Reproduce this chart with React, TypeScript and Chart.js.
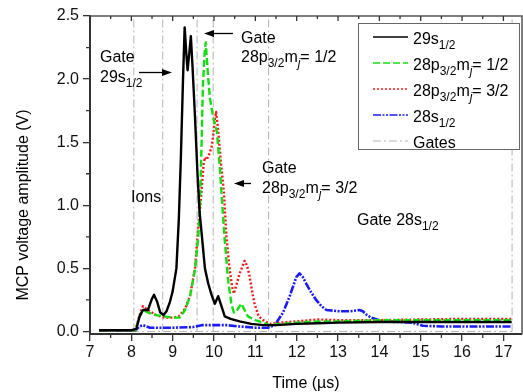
import { useEffect, useRef } from 'react';
import { Chart, registerables } from 'chart.js';

Chart.register(...registerables);

const FONT = '"Liberation Sans", Arial, Helvetica, sans-serif';

// ---- data (time in µs, amplitude in V) ----
const BLACK_X = [7.22, 8.0, 8.12, 8.2, 8.28, 8.4, 8.5, 8.55, 8.62, 8.7, 8.78, 8.85, 8.93, 9.0, 9.09, 9.15, 9.2, 9.25, 9.29, 9.33, 9.36, 9.4, 9.44, 9.48, 9.54, 9.6, 9.65, 9.7, 9.78, 9.86, 9.94, 10.02, 10.1, 10.16, 10.26, 10.4, 10.62, 10.9, 11.2, 11.5, 12.0, 12.5, 13.0, 14.0, 15.0, 16.0, 17.2];
const BLACK_Y = [0.01, 0.01, 0.02, 0.12, 0.17, 0.17, 0.26, 0.29, 0.24, 0.15, 0.13, 0.16, 0.23, 0.32, 0.5, 0.9, 1.4, 2.0, 2.41, 2.2, 2.07, 2.2, 2.34, 2.1, 1.7, 1.25, 0.95, 0.78, 0.5, 0.38, 0.29, 0.22, 0.28, 0.22, 0.12, 0.1, 0.08, 0.06, 0.05, 0.05, 0.06, 0.065, 0.07, 0.075, 0.075, 0.075, 0.075];

const GREEN_X = [7.22, 8.1, 8.2, 8.28, 8.4, 8.6, 8.77, 9.0, 9.17, 9.3, 9.42, 9.54, 9.62, 9.66, 9.7, 9.73, 9.77, 9.8, 9.85, 9.9, 9.98, 10.07, 10.14, 10.2, 10.26, 10.34, 10.42, 10.48, 10.56, 10.66, 10.74, 10.82, 11.0, 11.19, 11.35, 11.6, 12.0, 12.5, 13.0, 14.0, 15.0, 16.0, 17.2];
const GREEN_Y = [0.01, 0.01, 0.12, 0.17, 0.15, 0.13, 0.12, 0.11, 0.11, 0.17, 0.28, 0.49, 0.75, 1.0, 1.5, 1.94, 2.2, 2.29, 2.05, 1.85, 1.7, 1.58, 1.3, 1.0, 0.72, 0.41, 0.22, 0.15, 0.17, 0.22, 0.17, 0.12, 0.09, 0.07, 0.05, 0.06, 0.07, 0.08, 0.08, 0.09, 0.09, 0.09, 0.09];

const RED_X = [7.22, 8.1, 8.2, 8.28, 8.4, 8.6, 8.8, 9.01, 9.15, 9.3, 9.42, 9.54, 9.62, 9.7, 9.75, 9.78, 9.82, 9.88, 9.94, 9.98, 10.02, 10.05, 10.1, 10.16, 10.21, 10.24, 10.3, 10.38, 10.44, 10.48, 10.55, 10.62, 10.74, 10.8, 10.86, 10.92, 10.98, 11.08, 11.19, 11.35, 11.6, 12.0, 12.5, 13.0, 14.0, 15.0, 16.0, 17.2];
const RED_Y = [0.01, 0.01, 0.13, 0.2, 0.17, 0.13, 0.11, 0.11, 0.12, 0.18, 0.28, 0.5, 0.83, 1.12, 1.33, 1.38, 1.36, 1.4, 1.46, 1.55, 1.68, 1.74, 1.6, 1.36, 1.2, 1.1, 0.75, 0.49, 0.35, 0.3, 0.38, 0.46, 0.56, 0.52, 0.44, 0.32, 0.22, 0.12, 0.09, 0.06, 0.07, 0.08, 0.095, 0.09, 0.09, 0.095, 0.1, 0.1];

const BLUE_X = [7.22, 8.1, 8.2, 8.28, 8.45, 9.0, 9.5, 9.7, 10.0, 10.3, 10.6, 11.0, 11.3, 11.47, 11.67, 11.83, 11.99, 12.07, 12.15, 12.23, 12.35, 12.47, 12.6, 12.72, 13.04, 13.3, 13.52, 13.6, 13.7, 13.8, 14.08, 14.5, 14.8, 15.05, 15.5, 16.0, 17.2];
const BLUE_Y = [0.01, 0.01, 0.04, 0.05, 0.03, 0.03, 0.035, 0.05, 0.05, 0.05, 0.04, 0.03, 0.03, 0.05, 0.15, 0.28, 0.43, 0.46, 0.43, 0.38, 0.31, 0.25, 0.2, 0.17, 0.16, 0.16, 0.17, 0.16, 0.13, 0.11, 0.08, 0.075, 0.07, 0.045, 0.04, 0.04, 0.04];

const GATE_X = [8.06, 8.76, 9.59, 9.98, 11.32, 17.21];
const GATE_BASE = [7.22, 17.21];
const GATE_TOP = 2.5;

const X_TICKS = [7, 8, 9, 10, 11, 12, 13, 14, 15, 16, 17];
const X_MINOR = [7.5, 8.5, 9.5, 10.5, 11.5, 12.5, 13.5, 14.5, 15.5, 16.5, 17.5];
const Y_TICKS = [0, 0.5, 1.0, 1.5, 2.0, 2.5];
const Y_MINOR = [0.25, 0.75, 1.25, 1.75, 2.25];

const zip = (xs: number[], ys: number[]) => xs.map((x, i) => ({ x, y: ys[i] }));

function gatePoints() {
  const pts: { x: number; y: number | null }[] = [];
  pts.push({ x: GATE_BASE[0], y: 0 }, { x: GATE_BASE[1], y: 0 });
  GATE_X.forEach((g) => {
    pts.push({ x: g, y: null }, { x: g, y: 0 }, { x: g, y: GATE_TOP });
  });
  return pts;
}

type Seg = [string, 'n' | 's' | 'si'];

function drawRich(ctx: CanvasRenderingContext2D, segs: Seg[], x: number, y: number, size: number) {
  let cx = x;
  const sub = size * 0.75;
  segs.forEach(([t, k]) => {
    if (k === 'n') {
      ctx.font = `${size}px ${FONT}`;
      ctx.fillText(t, cx, y);
      cx += ctx.measureText(t).width;
    } else {
      ctx.font = `${k === 'si' ? 'italic ' : ''}${sub}px ${FONT}`;
      ctx.fillText(t, cx, y + size * 0.33);
      cx += ctx.measureText(t).width;
    }
  });
}

function arrow(ctx: CanvasRenderingContext2D, x0: number, y: number, x1: number) {
  const dir = x1 > x0 ? 1 : -1;
  ctx.save();
  ctx.strokeStyle = '#000';
  ctx.fillStyle = '#000';
  ctx.lineWidth = 1.3;
  ctx.beginPath();
  ctx.moveTo(x0, y);
  ctx.lineTo(x1 - dir * 8, y);
  ctx.stroke();
  ctx.beginPath();
  ctx.moveTo(x1, y);
  ctx.lineTo(x1 - dir * 10, y - 3.5);
  ctx.lineTo(x1 - dir * 10, y + 3.5);
  ctx.closePath();
  ctx.fill();
  ctx.restore();
}

const LEGEND: Seg[][] = [
  [['29s', 'n'], ['1/2', 's']],
  [['28p', 'n'], ['3/2', 's'], ['m', 'n'], ['j', 'si'], ['= 1/2', 'n']],
  [['28p', 'n'], ['3/2', 's'], ['m', 'n'], ['j', 'si'], ['= 3/2', 'n']],
  [['28s', 'n'], ['1/2', 's']],
  [['Gates', 'n']],
];

const decorPlugin = {
  id: 'decor',
  afterDraw(chart: any) {
    const ctx: CanvasRenderingContext2D = chart.ctx;
    const { left, right, top, bottom } = chart.chartArea;
    const xs = chart.scales.x;
    const ys = chart.scales.y;
    ctx.save();
    // frame top / right
    ctx.strokeStyle = '#555';
    ctx.lineWidth = 1.5;
    ctx.beginPath();
    ctx.moveTo(left, top);
    ctx.lineTo(right, top);
    ctx.lineTo(right, bottom);
    ctx.stroke();
    // ticks
    ctx.strokeStyle = '#333';
    ctx.lineWidth = 1.3;
    ctx.beginPath();
    X_MINOR.forEach((v) => {
      const px = xs.getPixelForValue(v);
      if (px < left || px > right) return;
      ctx.moveTo(px, bottom);
      ctx.lineTo(px, bottom + 4);
    });
    X_TICKS.concat(X_MINOR).forEach((v) => {
      const px = xs.getPixelForValue(v);
      if (px < left || px > right) return;
      const len = X_TICKS.includes(v) ? 5 : 3;
      ctx.moveTo(px, top);
      ctx.lineTo(px, top + len);
    });
    Y_MINOR.forEach((v) => {
      const py = ys.getPixelForValue(v);
      ctx.moveTo(left, py);
      ctx.lineTo(left - 4, py);
    });
    ctx.stroke();

    // legend
    ctx.fillStyle = '#fff';
    ctx.fillRect(358, 23, 161, 126);
    ctx.strokeStyle = '#666';
    ctx.lineWidth = 1;
    ctx.strokeRect(358.5, 23.5, 161, 126);
    ctx.fillStyle = '#000';
    ctx.textBaseline = 'alphabetic';
    chart.data.datasets.forEach((ds: any, i: number) => {
      const cy = 37 + i * 26;
      ctx.save();
      ctx.strokeStyle = ds.borderColor;
      ctx.lineWidth = i === 4 ? 1 : 1.6;
      ctx.setLineDash(ds.borderDash || []);
      ctx.beginPath();
      ctx.moveTo(373, cy);
      ctx.lineTo(408, cy);
      ctx.stroke();
      ctx.restore();
      drawRich(ctx, LEGEND[i], 413, cy + 6.5, 16);
    });

    // annotations
    drawRich(ctx, [['Gate', 'n']], 100, 62, 16);
    drawRich(ctx, [['29s', 'n'], ['1/2', 's']], 100, 82, 16);
    arrow(ctx, 139, 72.5, 172);
    drawRich(ctx, [['Gate', 'n']], 241, 42.5, 16);
    drawRich(ctx, [['28p', 'n'], ['3/2', 's'], ['m', 'n'], ['j', 'si'], ['= 1/2', 'n']], 241, 62, 16);
    arrow(ctx, 233, 33.5, 204);
    drawRich(ctx, [['Ions', 'n']], 131, 201.5, 16);
    drawRich(ctx, [['Gate', 'n']], 262, 173, 16);
    drawRich(ctx, [['28p', 'n'], ['3/2', 's'], ['m', 'n'], ['j', 'si'], ['= 3/2', 'n']], 262, 193, 16);
    arrow(ctx, 251, 183.5, 234);
    drawRich(ctx, [['Gate 28s', 'n'], ['1/2', 's']], 357, 225, 16);

    // axis titles
    ctx.font = `16px ${FONT}`;
    ctx.textAlign = 'center';
    ctx.fillText('Time (µs)', 306, 388);
    ctx.translate(28, 205);
    ctx.rotate(-Math.PI / 2);
    ctx.fillText('MCP voltage amplitude (V)', 0, 0);
    ctx.restore();
  },
};

export default function App() {
  const ref = useRef<HTMLCanvasElement | null>(null);
  useEffect(() => {
    if (!ref.current) return;
    const tickFont = { family: FONT, size: 16 };
    const chart = new Chart(ref.current, {
      type: 'line',
      data: {
        datasets: [
          { label: '29s1/2', data: zip(BLACK_X, BLACK_Y), borderColor: '#000000', borderWidth: 2.4, borderDash: [] },
          { label: '28p3/2 mj=1/2', data: zip(GREEN_X, GREEN_Y), borderColor: '#11e011', borderWidth: 2.4, borderDash: [7, 3] },
          { label: '28p3/2 mj=3/2', data: zip(RED_X, RED_Y), borderColor: '#ff1515', borderWidth: 2.4, borderDash: [2, 2] },
          { label: '28s1/2', data: zip(BLUE_X, BLUE_Y), borderColor: '#1a1aff', borderWidth: 2.6, borderDash: [8, 1.5, 2, 1.5, 2, 1.5] },
          { label: 'Gates', data: gatePoints(), borderColor: '#b4b4b4', borderWidth: 1, borderDash: [8, 3, 2, 3], spanGaps: false },
        ] as any,
      },
      options: {
        responsive: false,
        animation: false,
        devicePixelRatio: 1,
        parsing: true,
        elements: { point: { radius: 0 }, line: { tension: 0, borderJoinStyle: 'round' } },
        layout: { padding: { top: 16, right: 1, left: 0, bottom: 0 } },
        plugins: { legend: { display: false }, tooltip: { enabled: false }, title: { display: false } },
        scales: {
          x: {
            type: 'linear',
            min: 7,
            max: 17.45,
            afterBuildTicks: (s: any) => { s.ticks = X_TICKS.map((v) => ({ value: v })); },
            afterFit: (s: any) => { s.height = 58; },
            ticks: { font: tickFont, color: '#111', padding: 2, maxRotation: 0, autoSkip: false, callback: (v: any) => String(v) },
            grid: { display: true, drawOnChartArea: false, drawTicks: true, tickLength: 7, color: '#333', lineWidth: 1.3 },
            border: { display: true, color: '#333', width: 2 },
          },
          y: {
            type: 'linear',
            min: -0.02,
            max: 2.5,
            afterBuildTicks: (s: any) => { s.ticks = Y_TICKS.map((v) => ({ value: v })); },
            afterFit: (s: any) => { s.width = 90; },
            ticks: { font: tickFont, color: '#111', padding: 4, autoSkip: false, callback: (v: any) => Number(v).toFixed(1) },
            grid: { display: true, drawOnChartArea: false, drawTicks: true, tickLength: 7, color: '#333', lineWidth: 1.3 },
            border: { display: true, color: '#333', width: 2 },
          },
        },
      },
      plugins: [decorPlugin],
    });
    return () => chart.destroy();
  }, []);
  return (
    <div style={{ position: 'fixed', left: 0, top: 0, width: 523, height: 392, background: '#fff' }}>
      <canvas ref={ref} width={523} height={392} style={{ display: 'block' }} />
    </div>
  );
}
